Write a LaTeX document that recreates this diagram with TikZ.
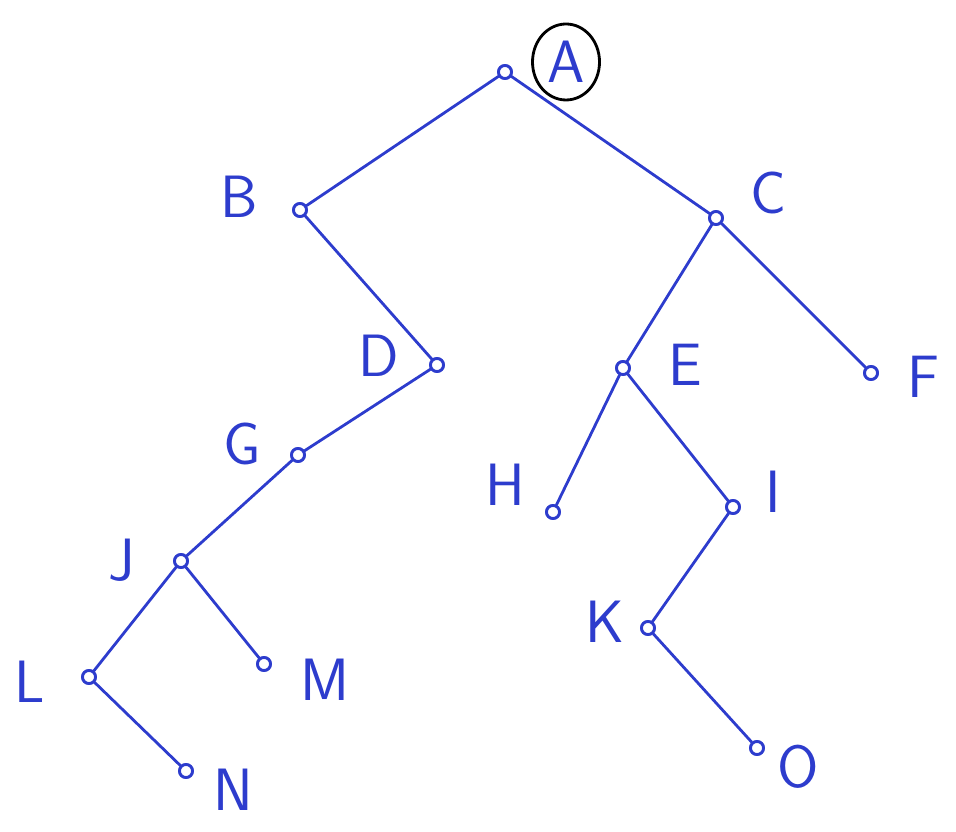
\documentclass[tikz,border=0pt]{standalone}
\usepackage{fontspec}
\setmainfont{DejaVu Sans}
\usetikzlibrary{positioning, shapes.geometric}

\definecolor{pen}{RGB}{45,60,205}

\begin{document}
\begin{tikzpicture}[
    vertex/.style={draw=pen, circle, thick, fill=white, minimum size=0.13cm, inner sep=0pt},
    lbl/.style={text=pen, font=\fontsize{17}{19}\selectfont\sffamily, inner sep=1pt},
    edge/.style={draw=pen, thick, line cap=round}
]

% fix canvas to reference proportions
\useasboundingbox (0,0) rectangle (9.56,-8.32);

% Vertices
\node[vertex] (A) at (5.05,-0.72) {};
\node[vertex] (B) at (3.00,-2.10) {};
\node[vertex] (C) at (7.16,-2.18) {};
\node[vertex] (D) at (4.37,-3.65) {};
\node[vertex] (E) at (6.23,-3.68) {};
\node[vertex] (F) at (8.71,-3.73) {};
\node[vertex] (G) at (2.98,-4.55) {};
\node[vertex] (H) at (5.53,-5.12) {};
\node[vertex] (I) at (7.33,-5.07) {};
\node[vertex] (J) at (1.81,-5.61) {};
\node[vertex] (K) at (6.48,-6.28) {};
\node[vertex] (L) at (0.89,-6.77) {};
\node[vertex] (M) at (2.64,-6.64) {};
\node[vertex] (N) at (1.86,-7.71) {};
\node[vertex] (O) at (7.57,-7.48) {};

% Edges
\begin{scope}[on background layer/.try]
\draw[edge] (A) -- (B);
\draw[edge] (A) -- (C);
\draw[edge] (B) -- (D);
\draw[edge] (D) -- (G);
\draw[edge] (G) -- (J);
\draw[edge] (J) -- (L);
\draw[edge] (J) -- (M);
\draw[edge] (L) -- (N);
\draw[edge] (C) -- (E);
\draw[edge] (C) -- (F);
\draw[edge] (E) -- (H);
\draw[edge] (E) -- (I);
\draw[edge] (I) -- (K);
\draw[edge] (K) -- (O);
\end{scope}
\foreach \v in {A,B,C,D,E,F,G,H,I,J,K,L,M,N,O}
  \node[vertex] at (\v) {};

% Labels
\node[lbl] (labA) at (5.66,-0.62) {A};
\node[draw, ellipse, thick, minimum width=0.67cm, minimum height=0.76cm] (ringA) at (labA) {};
\node[lbl] (labB) at (2.39,-1.97) {B};
\node[lbl] (labC) at (7.68,-1.93) {C};
\node[lbl] (labD) at (3.79,-3.56) {D};
\node[lbl] (labE) at (6.85,-3.65) {E};
\node[lbl] (labF) at (9.23,-3.77) {F};
\node[lbl] (labG) at (2.42,-4.44) {G};
\node[lbl] (labH) at (5.05,-4.85) {H};
\node[lbl] (labI) at (7.73,-4.92) {I};
\node[lbl] (labJ) at (1.22,-5.60) {J};
\node[lbl] (labK) at (6.05,-6.22) {K};
\node[lbl] (labL) at (0.30,-6.82) {L};
\node[lbl] (labM) at (3.25,-6.80) {M};
\node[lbl] (labN) at (2.33,-7.90) {N};
\node[lbl] (labO) at (7.98,-7.67) {O};

\end{tikzpicture}
\end{document}
